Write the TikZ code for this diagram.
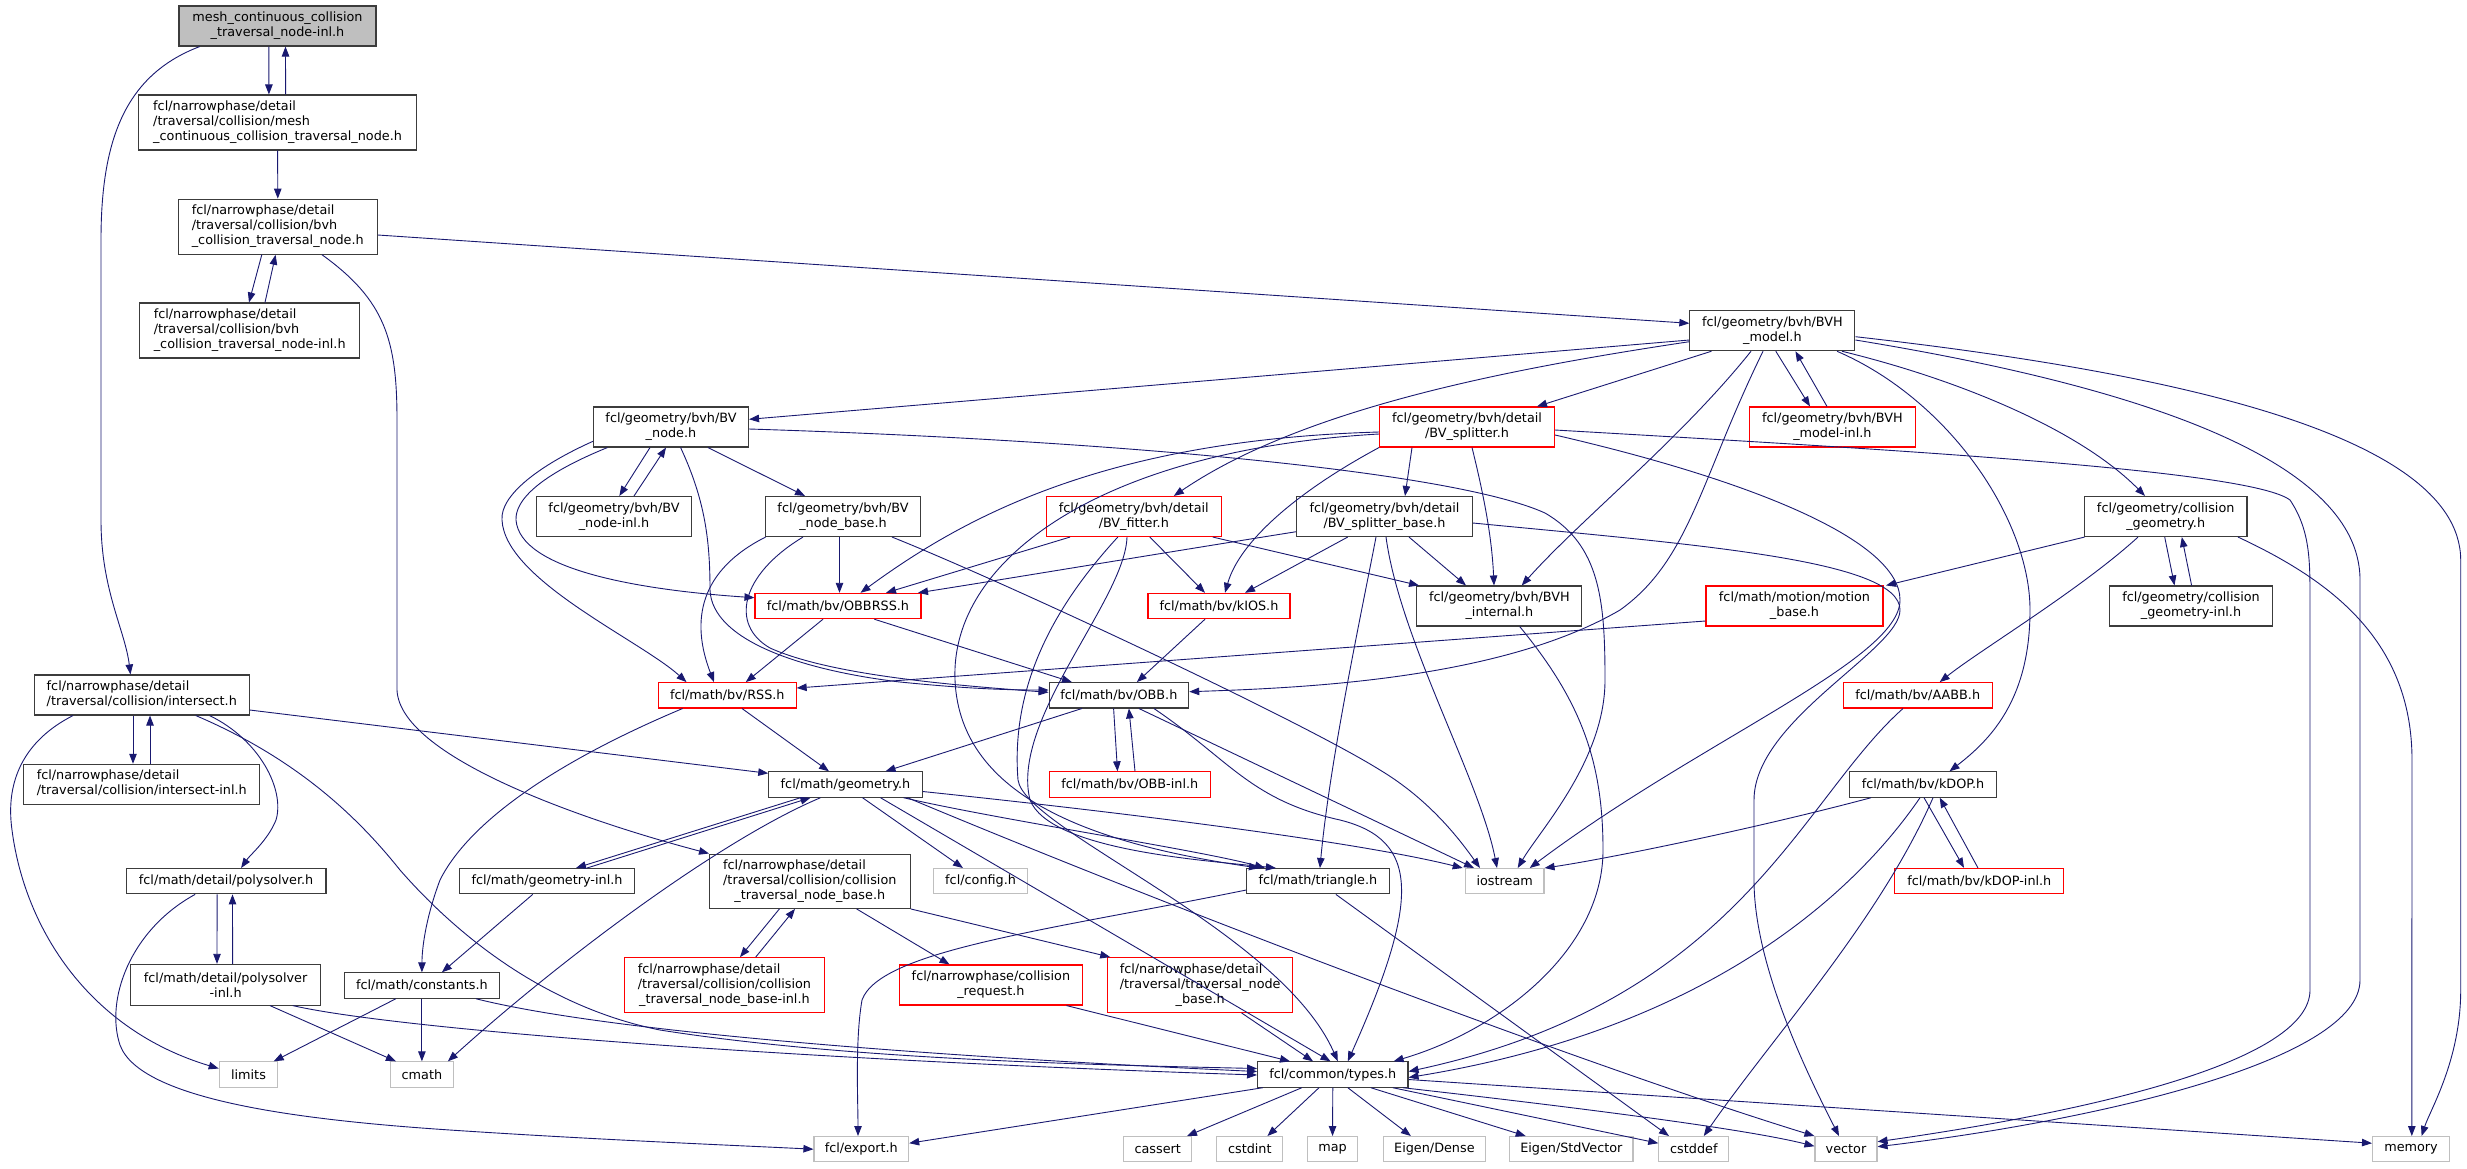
\documentclass[tikz,border=0pt]{standalone}
\usepackage{fontspec}
\setmainfont{DejaVu Sans}
\usetikzlibrary{arrows.meta}
\definecolor{edgec}{HTML}{191970}
\definecolor{boxc}{HTML}{3C3C3C}
\definecolor{redc}{HTML}{FF0000}
\definecolor{grayc}{HTML}{BFBFBF}
\newcommand\ltab[1]{\begin{tabular}{@{}l@{}}#1\end{tabular}}
\newcommand\clast[1]{\multicolumn{1}{@{}c@{}}{#1}}
\newcommand\gnode[7]{\node[#6, minimum width=#4pt, minimum height=#5pt] (#1) at (#2,#3) {#7};}
\begin{document}
\begin{tikzpicture}[x=1pt,y=-1pt,
  box/.style={draw=boxc, line width=1.1pt, rectangle, inner sep=0pt, align=center,
    font=\fontsize{12.8}{15}\selectfont, text=black},
  rbox/.style={box, draw=redc},
  gbox/.style={box, draw=grayc},
  e/.style={draw=edgec, line width=0.9pt, -{Triangle[length=10pt,width=7.5pt]}}]
\useasboundingbox (0,0) rectangle (2467,1168);
% ---------- nodes ----------
\gnode{n0}{277.5}{26}{197}{40}{box,fill=grayc}{mesh\_continuous\_collision\\\_traversal\_node-inl.h}
\gnode{n1}{277.6}{122.5}{277.6}{55}{box}{\ltab{fcl/narrowphase/detail\\/traversal/collision/mesh\\\_continuous\_collision\_traversal\_node.h}}
\gnode{n2}{277.8}{226.7}{199}{55}{box}{\ltab{fcl/narrowphase/detail\\/traversal/collision/bvh\\\_collision\_traversal\_node.h}}
\gnode{n3}{249.7}{330.5}{220}{55}{box}{\ltab{fcl/narrowphase/detail\\/traversal/collision/bvh\\\_collision\_traversal\_node-inl.h}}
\gnode{bvhm}{1772.4}{330.7}{165}{40}{box}{fcl/geometry/bvh/BVH\\\_model.h}
\gnode{bvn}{671}{427}{155}{40}{box}{fcl/geometry/bvh/BV\\\_node.h}
\gnode{bvsp}{1467}{427}{175}{40}{rbox}{fcl/geometry/bvh/detail\\/BV\_splitter.h}
\gnode{bvhmi}{1832.4}{427}{166}{40}{rbox}{fcl/geometry/bvh/BVH\\\_model-inl.h}
\gnode{bvninl}{614}{516.5}{155}{40}{box}{fcl/geometry/bvh/BV\\\_node-inl.h}
\gnode{bvnb}{843}{516.5}{155}{40}{box}{fcl/geometry/bvh/BV\\\_node\_base.h}
\gnode{bvfit}{1133.8}{516.5}{175}{40}{rbox}{fcl/geometry/bvh/detail\\/BV\_fitter.h}
\gnode{bvspb}{1384.5}{516.5}{175.6}{40}{box}{fcl/geometry/bvh/detail\\/BV\_splitter\_base.h}
\gnode{cg}{2165.7}{516.5}{162.5}{40}{box}{fcl/geometry/collision\\\_geometry.h}
\gnode{obbrss}{838}{606}{166}{25.3}{rbox}{fcl/math/bv/OBBRSS.h}
\gnode{kios}{1219}{606}{142}{25.3}{rbox}{fcl/math/bv/kIOS.h}
\gnode{bvhint}{1499.4}{606}{165}{40}{box}{fcl/geometry/bvh/BVH\\\_internal.h}
\gnode{motion}{1794.5}{606}{177}{40}{rbox}{fcl/math/motion/motion\\\_base.h}
\gnode{cginl}{2191}{606}{163}{40}{box}{fcl/geometry/collision\\\_geometry-inl.h}
\gnode{isect}{141.8}{695}{214.7}{40}{box}{\ltab{fcl/narrowphase/detail\\/traversal/collision/intersect.h}}
\gnode{rss}{727.3}{695.3}{137.6}{25.3}{rbox}{fcl/math/bv/RSS.h}
\gnode{obb}{1118.9}{695.3}{139.6}{25.3}{box}{fcl/math/bv/OBB.h}
\gnode{aabb}{1917.7}{695.3}{148.7}{25.3}{rbox}{fcl/math/bv/AABB.h}
\gnode{isinl}{141.8}{784.3}{236}{40}{box}{\ltab{fcl/narrowphase/detail\\/traversal/collision/intersect-inl.h}}
\gnode{geom}{845.5}{784.5}{153.4}{25.3}{box}{fcl/math/geometry.h}
\gnode{obbinl}{1129.8}{784.5}{161}{25.3}{rbox}{fcl/math/bv/OBB-inl.h}
\gnode{kdop}{1923}{784.5}{146.8}{25.3}{box}{fcl/math/bv/kDOP.h}
\gnode{poly}{226.1}{881.2}{199.7}{25.3}{box}{fcl/math/detail/polysolver.h}
\gnode{geominl}{547}{881.2}{175.6}{25.3}{box}{fcl/math/geometry-inl.h}
\gnode{ctnb}{809.8}{881.2}{200.5}{54.3}{box}{\ltab{fcl/narrowphase/detail\\/traversal/collision/collision\\\clast{\_traversal\_node\_base.h}}}
\gnode{config}{980.6}{881.2}{93.7}{25.3}{gbox}{fcl/config.h}
\gnode{tri}{1317.9}{881.2}{142.3}{25.3}{box}{fcl/math/triangle.h}
\gnode{iostream}{1504.7}{881.2}{78.6}{25.3}{gbox}{iostream}
\gnode{kdopinl}{1979.3}{881}{169}{25.3}{rbox}{fcl/math/bv/kDOP-inl.h}
\gnode{polyinl}{225.6}{984.7}{189.4}{40.7}{box}{fcl/math/detail/polysolver\\-inl.h}
\gnode{consts}{421.9}{985.5}{155}{25.3}{box}{fcl/math/constants.h}
\gnode{ctnbinl}{724.4}{985}{200}{54.7}{rbox}{\ltab{fcl/narrowphase/detail\\/traversal/collision/collision\\\clast{\_traversal\_node\_base-inl.h}}}
\gnode{creq}{990.9}{985}{183.5}{40}{rbox}{fcl/narrowphase/collision\\\_request.h}
\gnode{tnb}{1200.2}{985}{185}{54.7}{rbox}{\ltab{fcl/narrowphase/detail\\/traversal/traversal\_node\\\clast{\_base.h}}}
\gnode{limits}{248.5}{1074.5}{58.5}{25.3}{gbox}{limits}
\gnode{cmath}{421.9}{1074.5}{63}{25.3}{gbox}{cmath}
\gnode{types}{1332.8}{1074.5}{150.4}{25.3}{box}{fcl/common/types.h}
\gnode{export}{861.3}{1149.2}{94.7}{25.3}{gbox}{fcl/export.h}
\gnode{cassert}{1157.7}{1149.2}{67.7}{25.3}{gbox}{cassert}
\gnode{cstdint}{1249.8}{1149.2}{66}{25.3}{gbox}{cstdint}
\gnode{map}{1332.5}{1149.2}{50}{25.3}{gbox}{map}
\gnode{dense}{1434.4}{1149.2}{102}{25.3}{gbox}{Eigen/Dense}
\gnode{stdvec}{1571.3}{1149.2}{123.4}{25.3}{gbox}{Eigen/StdVector}
\gnode{cstddef}{1693.8}{1149.2}{70}{25.3}{gbox}{cstddef}
\gnode{vector}{1846}{1149.2}{62}{25.3}{gbox}{vector}
\gnode{memory}{2411}{1149.2}{77}{25.3}{gbox}{memory}
% ---------- edges ----------
% top chain
\draw[e] ([xshift=-8.6]n0.south) -- ([xshift=-8.7]n1.north);
\draw[e] ([xshift=8]n1.north) -- ([xshift=8]n0.south);
\draw[e] ([xshift=-77.8]n0.south) .. controls (125,75) and (101,140) .. (101,240) -- (101,520) .. controls (101,590) and (125,630) .. ([xshift=-11.3]isect.north);
\draw[e] (n1.south) -- (n2.north);
\draw[e] ([xshift=-16]n2.south) -- ([xshift=-0.7]n3.north);
\draw[e] ([xshift=15.3]n3.north) -- ([xshift=-2.2]n2.south);
\draw[e] ([yshift=-8.3]n2.east) -- ([yshift=7.4]bvhm.west);
\draw[e] ([xshift=44.2]n2.south) .. controls (385,300) and (397,340) .. (397,420) -- (397,690) .. controls (400,760) and (600,825) .. (ctnb.north west);
% BVH_model
\draw[e] ([yshift=-9.3]bvhm.west) -- ([yshift=7.7]bvn.east);
\draw[e] ([xshift=-61]bvhm.south) -- ([xshift=70]bvsp.north);
\draw[e] ([yshift=-11]bvhm.west) .. controls (1500,370) and (1300,410) .. ([xshift=40]bvfit.north);
\draw[e] ([xshift=3.4]bvhm.south) -- ([xshift=-22.4]bvhmi.north);
\draw[e] ([xshift=-5.4]bvhmi.north) -- ([xshift=23]bvhm.south);
\draw[e] ([xshift=-21.4]bvhm.south) .. controls (1680,440) and (1580,520) .. ([xshift=22.3]bvhint.north);
\draw[e] ([xshift=-9.4]bvhm.south) .. controls (1700,480) and (1690,560) .. (1620,610) .. controls (1500,680) and (1300,688) .. ([yshift=3.6]obb.east);
\draw[e] ([xshift=69.5]bvhm.south) .. controls (1960,380) and (2080,430) .. ([xshift=-20.7]cg.north);
\draw[e] ([xshift=64.6]bvhm.south) .. controls (1950,400) and (2030,520) .. (2030,610) .. controls (2030,700) and (1990,740) .. ([xshift=26.5]kdop.north);
\draw[e] ([yshift=-9.3]bvhm.east) .. controls (2100,380) and (2360,450) .. (2360,580) -- (2360,980) .. controls (2360,1060) and (2100,1120) .. ([yshift=2.5]vector.east);
\draw[e] ([yshift=-6]bvhm.east) .. controls (2150,370) and (2460,430) .. (2460.7,560) -- (2460.7,990) .. controls (2460.7,1060) and (2430,1110) .. ([xshift=10.6]memory.north);
% BV_node
\draw[e] ([xshift=-21]bvn.south) -- ([xshift=5.3]bvninl.north);
\draw[e] ([xshift=20]bvninl.north) -- ([xshift=-5]bvn.south);
\draw[e] ([xshift=37]bvn.south) -- ([xshift=-38]bvnb.north);
\draw[e] ([yshift=-14.3]bvn.west) .. controls (540,465) and (500,495) .. (502,520) .. controls (505,580) and (640,640) .. ([xshift=-40.8]rss.north);
\draw[e] ([xshift=-63.6]bvn.south) .. controls (540,475) and (515,500) .. (516,520) .. controls (520,570) and (640,590) .. ([yshift=8.3]obbrss.west);
\draw[e] ([xshift=9.6]bvn.south) .. controls (705,500) and (710,540) .. (710,590) .. controls (712,640) and (800,670) .. (900,682) .. controls (960,688) and (1000,690) .. ([yshift=5.3]obb.west);
\draw[e] ([yshift=-2]bvn.east) .. controls (1100,440) and (1450,470) .. (1545,513) .. controls (1600,545) and (1605,600) .. (1605,680) .. controls (1605,760) and (1540,830) .. ([xshift=13]iostream.north);
% BV_node_base
\draw[e] ([xshift=-77.4]bvnb.south) .. controls (700,570) and (690,620) .. ([xshift=-13.3]rss.north);
\draw[e] ([xshift=-40]bvnb.south) .. controls (740,575) and (730,625) .. (770,648) .. controls (830,675) and (950,685) .. ([yshift=3]obb.west);
\draw[e] ([xshift=-3.5]bvnb.south) -- ([xshift=1.5]obbrss.north);
\draw[e] ([xshift=49]bvnb.south) .. controls (1000,580) and (1300,720) .. (1380,770) .. controls (1430,800) and (1460,840) .. ([xshift=-24.7]iostream.north);
% BV_splitter
\draw[e] ([yshift=-5]bvsp.west) .. controls (1100,440) and (960,520) .. ([xshift=22.5]obbrss.north);
\draw[e] ([yshift=-7]bvsp.west) .. controls (1100,450) and (950,560) .. (955,680) .. controls (960,800) and (1100,845) .. ([xshift=-59]tri.north);
\draw[e] ([xshift=-88]bvsp.south) .. controls (1300,490) and (1240,540) .. ([xshift=6]kios.north);
\draw[e] ([xshift=-55]bvsp.south) -- ([xshift=20.5]bvspb.north);
\draw[e] ([xshift=5]bvsp.south) .. controls (1485,500) and (1492,540) .. ([xshift=-5.4]bvhint.north);
\draw[e] ([yshift=-3]bvsp.east) .. controls (1900,450) and (2250,470) .. (2290,500) .. controls (2310,530) and (2310,560) .. (2310,600) -- (2310,990) .. controls (2310,1060) and (2100,1110) .. ([yshift=7.5]vector.east);
\draw[e] ([yshift=-8]bvsp.east) .. controls (1750,480) and (1900,540) .. (1900,600) .. controls (1900,660) and (1700,740) .. ([xshift=25]iostream.north);
% BV_fitter
\draw[e] ([xshift=-63.8]bvfit.south) -- ([xshift=48]obbrss.north);
\draw[e] ([xshift=16]bvfit.south) -- ([xshift=-14]kios.north);
\draw[e] ([xshift=79]bvfit.south) -- ([xshift=-80.4]bvhint.north);
\draw[e] ([xshift=-16]bvfit.south) .. controls (1060,600) and (1010,680) .. (1018,780) .. controls (1025,830) and (1280,930) .. ([xshift=5]types.north);
\draw[e] ([xshift=-6.8]bvfit.south) .. controls (1125,600) and (1010,720) .. (1030,800) .. controls (1050,850) and (1200,860) .. ([xshift=-42]tri.north);
% BV_splitter_base
\draw[e] ([yshift=-15.2]bvspb.west) .. controls (1150,555) and (1000,580) .. ([xshift=80]obbrss.north);
\draw[e] ([xshift=-36.8]bvspb.south) -- ([xshift=26]kios.north);
\draw[e] ([xshift=24.5]bvspb.south) -- ([xshift=-33.4]bvhint.north);
\draw[e] ([xshift=-8.5]bvspb.south) .. controls (1360,620) and (1330,760) .. ([xshift=2]tri.north);
\draw[e] ([xshift=1.5]bvspb.south) .. controls (1400,640) and (1480,780) .. ([xshift=-7.7]iostream.north);
\draw[e] ([yshift=-6.5]bvspb.east) .. controls (1700,545) and (1900,560) .. (1900,610) .. controls (1900,650) and (1754,720) .. (1754,800) -- (1754,880) .. controls (1754,960) and (1800,1060) .. ([xshift=-7]vector.north);
% collision geometry
\draw[e] ([xshift=-81.2]cg.south) -- ([xshift=91.5]motion.north);
\draw[e] ([xshift=-27.7]cg.south) .. controls (2080,590) and (1980,650) .. ([xshift=22]aabb.north);
\draw[e] ([xshift=-1]cg.south) -- ([xshift=-16.5]cginl.north);
\draw[e] ([xshift=0.6]cginl.north) -- ([xshift=16.1]cg.south);
\draw[e] ([xshift=72.3]cg.south) .. controls (2330,580) and (2412,640) .. (2412,760) -- ([xshift=0.8]memory.north);
% bounding volumes
\draw[e] ([yshift=-15]motion.west) -- ([yshift=7.3]rss.east);
\draw[e] ([xshift=-15]obbrss.south) -- ([xshift=18.5]rss.north);
\draw[e] ([xshift=36.3]obbrss.south) -- ([xshift=-47]obb.north);
\draw[e] ([xshift=-14]kios.south) -- ([xshift=18]obb.north);
\draw[e] ([xshift=20.3]bvhint.south) .. controls (1580,700) and (1603,760) .. (1603,850) .. controls (1603,950) and (1500,1030) .. ([xshift=60.8]types.north);
\draw[e] ([xshift=14.7]rss.south) -- ([xshift=-16.5]geom.north);
\draw[e] ([xshift=-44.7]rss.south) .. controls (560,760) and (470,820) .. (440,880) .. controls (425,920) and (422,950) .. (consts.north);
\draw[e] ([xshift=-37]obb.south) -- ([xshift=40]geom.north);
\draw[e] ([xshift=-5.3]obb.south) -- ([xshift=-12.3]obbinl.north);
\draw[e] ([xshift=5.2]obbinl.north) -- ([xshift=10]obb.south);
\draw[e] ([xshift=20]obb.south) -- ([xshift=-30.7]iostream.north);
\draw[e] ([xshift=35]obb.south) .. controls (1230,760) and (1250,800) .. (1340,820) .. controls (1420,840) and (1420,900) .. ([xshift=15]types.north);
\draw[e] ([xshift=-14.7]aabb.south) .. controls (1800,800) and (1740,1000) .. ([yshift=3]types.east);
\draw[e] ([xshift=1]kdop.south) -- ([xshift=-15.3]kdopinl.north);
\draw[e] ([xshift=-1.4]kdopinl.north) -- ([xshift=16.7]kdop.south);
\draw[e] ([xshift=-52]kdop.south) .. controls (1750,830) and (1600,860) .. (iostream.north east);
\draw[e] ([xshift=-3]kdop.south) .. controls (1850,900) and (1700,1030) .. ([yshift=-3]types.east);
\draw[e] ([xshift=10]kdop.south) .. controls (1880,920) and (1770,1040) .. ([xshift=10]cstddef.north);
% intersect
\draw[e] ([xshift=-8.8]isect.south) -- ([xshift=-8.8]isinl.north);
\draw[e] ([xshift=8.2]isinl.north) -- ([xshift=8.2]isect.south);
\draw[e] ([yshift=-15]isect.east) -- ([yshift=11.2]geom.west);
\draw[e] ([xshift=-68.8]isect.south) .. controls (25,740) and (5,780) .. (12,830) .. controls (25,930) and (90,1030) .. ([yshift=6]limits.west);
\draw[e] ([xshift=67.8]isect.south) .. controls (260,740) and (285,790) .. (276,820) .. controls (268,840) and (250,855) .. ([xshift=15]poly.north);
\draw[e] ([xshift=54]isect.south) .. controls (300,760) and (360,820) .. (400,870) .. controls (470,950) and (560,1010) .. (660,1030) .. controls (850,1060) and (1100,1065) .. ([yshift=6]types.west);
% geometry
\draw[e] ([xshift=-45]geom.south) -- ([xshift=29]geominl.north);
\draw[e] ([xshift=40]geominl.north) -- ([xshift=-35]geom.south);
\draw[e] ([xshift=-25]geom.south) .. controls (720,840) and (560,960) .. ([xshift=26]cmath.north);
\draw[e] ([xshift=17]geom.south) -- ([xshift=-17.6]config.north);
\draw[e] ([yshift=-7]geom.east) .. controls (1100,810) and (1350,840) .. ([xshift=-42]iostream.north);
\draw[e] ([xshift=58]geom.south) .. controls (1000,820) and (1200,850) .. ([xshift=-53]tri.north);
\draw[e] ([xshift=35]geom.south) -- ([xshift=-2.3]types.north);
\draw[e] ([xshift=62]geom.south) .. controls (1200,920) and (1600,1070) .. (vector.north west);
\draw[e] ([xshift=-14.3]geominl.south) -- ([xshift=20]consts.north);
% polysolver / constants
\draw[e] ([xshift=-9]poly.south) -- ([xshift=-8.6]polyinl.north);
\draw[e] ([xshift=7]polyinl.north) -- ([xshift=6.4]poly.south);
\draw[e] ([xshift=-31]poly.south) .. controls (130,930) and (105,1000) .. (120,1045) .. controls (140,1100) and (300,1120) .. (450,1130) .. controls (600,1140) and (750,1146) .. (export.west);
\draw[e] ([xshift=44.4]polyinl.south) -- ([xshift=-26]cmath.north);
\draw[e] ([xshift=67.2]polyinl.south) .. controls (400,1030) and (800,1060) .. ([yshift=-0.5]types.west);
\draw[e] ([xshift=-26]consts.south) -- ([xshift=25.2]limits.north);
\draw[e] (consts.south) -- (cmath.north);
\draw[e] ([xshift=54]consts.south) .. controls (600,1030) and (900,1055) .. ([yshift=3]types.west);
% traversal node base
\draw[e] ([xshift=-30.4]ctnb.south) -- ([xshift=15.6]ctnbinl.north);
\draw[e] ([xshift=31.3]ctnbinl.north) -- ([xshift=-14.8]ctnb.south);
\draw[e] ([xshift=46.8]ctnb.south) -- ([xshift=-41.4]creq.north);
\draw[e] (ctnb.south east) -- ([xshift=-90]tnb.north);
\draw[e] ([xshift=75.6]creq.south) -- ([xshift=-42.8]types.north);
\draw[e] ([xshift=41.3]tnb.south) -- ([xshift=-19.8]types.north);
% triangle
\draw[e] ([yshift=-8.8]tri.west) .. controls (1050,930) and (880,950) .. (862,1000) .. controls (855,1040) and (858,1100) .. ([xshift=-3.3]export.north);
\draw[e] ([xshift=18]tri.south) -- ([xshift=-24.8]cstddef.north);
% types
\draw[e] ([xshift=-70]types.south) -- ([yshift=6]export.east);
\draw[e] ([xshift=-31]types.south) -- ([xshift=29.3]cassert.north);
\draw[e] ([xshift=-13.8]types.south) -- ([xshift=17.6]cstdint.north);
\draw[e] (types.south) -- (map.north);
\draw[e] ([xshift=15]types.south) -- ([xshift=-23.5]dense.north);
\draw[e] ([xshift=38]types.south) -- ([xshift=-45.6]stdvec.north);
\draw[e] ([xshift=60]types.south) -- ([yshift=6]cstddef.west);
\draw[e] ([xshift=70]types.south) .. controls (1600,1110) and (1750,1130) .. ([yshift=3]vector.west);
\draw[e] ([yshift=-5]types.east) -- ([yshift=6]memory.west);
\end{tikzpicture}
\end{document}
